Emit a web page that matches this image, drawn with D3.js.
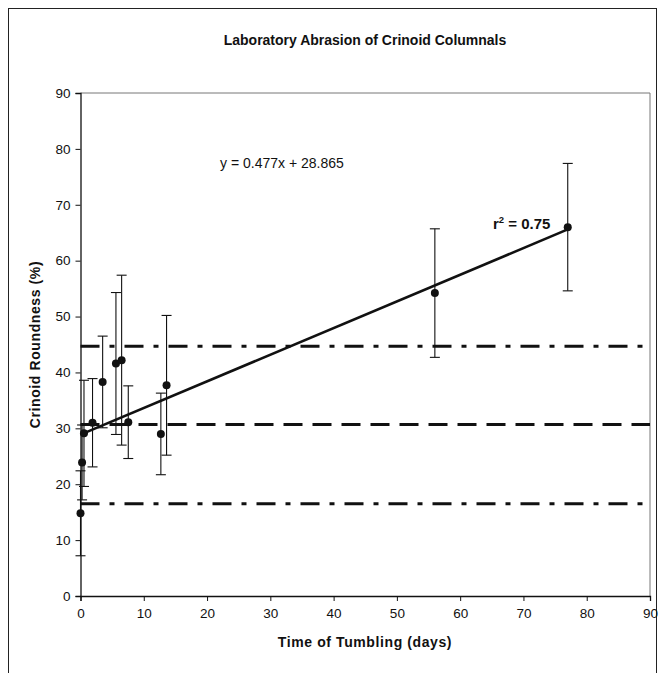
<!DOCTYPE html>
<html><head><meta charset="utf-8">
<script src="https://cdn.jsdelivr.net/npm/d3@7"></script>
<style>
html,body{margin:0;padding:0;background:#fff;}
svg{display:block;font-family:Arial,"Liberation Sans",sans-serif;}
</style></head>
<body>
<svg id="chart" width="664" height="673"></svg>
<script>
// Data
const days      = [0, 0.25, 0.55, 1.9, 3.5, 5.6, 6.5, 7.55, 12.7, 13.6, 56, 77];
const roundness = [14.8, 23.9, 29.1, 31.0, 38.3, 41.6, 42.2, 31.1, 29.0, 37.7, 54.2, 66.0];
const errors    = [7.6, 6.7, 9.5, 7.9, 8.2, 12.7, 15.2, 6.5, 7.3, 12.5, 11.5, 11.4];
const xTicks = [0, 10, 20, 30, 40, 50, 60, 70, 80, 90];
const yTicks = [0, 10, 20, 30, 40, 50, 60, 70, 80, 90];
const slope = 0.477, intercept = 28.865;
const fitRange = [0, 77];
const refLevels = [44.7, 30.7, 16.5];
const refStyles = ["dashdot", "dash", "dashdot"];

const svg = d3.select("#chart");
const x = d3.scaleLinear().domain([0, 90]).range([80.5, 650]);
const y = d3.scaleLinear().domain([0, 90]).range([596, 93]);

// outer frame
svg.append("rect").attr("x", 8.5).attr("y", 8.5).attr("width", 648).attr("height", 700)
  .attr("fill", "none").attr("stroke", "#222").attr("stroke-width", 1);

// title
svg.append("text").attr("x", 365).attr("y", 45).attr("text-anchor", "middle")
  .attr("font-size", 14).attr("font-weight", "bold").attr("fill", "#111")
  .text("Laboratory Abrasion of Crinoid Columnals");

// plot border (top and right)
svg.append("path").attr("d", `M${x(0)},${y(90)}H${x(90)}V${y(0)}`)
  .attr("fill", "none").attr("stroke", "#777").attr("stroke-width", 1);

// axes
const xAxis = d3.axisBottom(x).tickValues(xTicks).tickSize(5).tickPadding(7).tickFormat(d3.format("d"));
const gx = svg.append("g").attr("transform", `translate(0,${y(0)})`).call(xAxis);
const yAxis = d3.axisLeft(y).tickValues(yTicks).tickSize(5).tickPadding(5).tickFormat(d3.format("d"));
const gy = svg.append("g").attr("transform", `translate(${x(0)},0)`).call(yAxis);
[gx, gy].forEach(g => {
  g.select(".domain").attr("stroke", "#111").attr("stroke-width", 1.3);
  g.selectAll(".tick line").attr("stroke", "#111");
  g.selectAll(".tick text").attr("font-size", 13.5).attr("fill", "#111")
    .attr("font-family", 'Arial,"Liberation Sans",sans-serif');
});

// axis titles
svg.append("text").attr("x", 365).attr("y", 647).attr("text-anchor", "middle")
  .attr("font-size", 14).attr("font-weight", "bold").attr("fill", "#111").attr("letter-spacing", 0.6)
  .text("Time of Tumbling (days)");
svg.append("text").attr("transform", `translate(40,${(y(0)+y(90))/2}) rotate(-90)`)
  .attr("text-anchor", "middle").attr("font-size", 14).attr("font-weight", "bold").attr("fill", "#111")
  .attr("letter-spacing", 0.6)
  .text("Crinoid Roundness (%)");

// reference lines
const dashes = { dashdot: "19,10,5,10", dash: "19,10" };
svg.selectAll(".ref").data(refLevels).enter().append("line")
  .attr("x1", x(0)).attr("x2", x(90))
  .attr("y1", d => y(d)).attr("y2", d => y(d))
  .attr("stroke", "#111").attr("stroke-width", 3)
  .attr("stroke-dasharray", (d, i) => dashes[refStyles[i]]);

// regression line
svg.append("line")
  .attr("x1", x(fitRange[0])).attr("y1", y(slope * fitRange[0] + intercept))
  .attr("x2", x(fitRange[1])).attr("y2", y(slope * fitRange[1] + intercept))
  .attr("stroke", "#111").attr("stroke-width", 2.6);

// error bars
const pts = days.map((d, i) => ({ x: d, y: roundness[i], e: errors[i] }));
const eb = svg.append("g").attr("stroke", "#111").attr("stroke-width", 1.1);
pts.forEach(p => {
  eb.append("line").attr("x1", x(p.x)).attr("x2", x(p.x)).attr("y1", y(p.y - p.e)).attr("y2", y(p.y + p.e));
  [p.y - p.e, p.y + p.e].forEach(v => {
    eb.append("line").attr("x1", x(p.x) - 5).attr("x2", x(p.x) + 5).attr("y1", y(v)).attr("y2", y(v));
  });
});

// points
svg.selectAll(".pt").data(pts).enter().append("circle")
  .attr("cx", d => x(d.x)).attr("cy", d => y(d.y)).attr("r", 4).attr("fill", "#111");

// annotations
svg.append("text").attr("x", 220).attr("y", 168).attr("font-size", 14).attr("fill", "#111")
  .text(`y = ${slope}x + ${intercept}`);
const r2 = svg.append("text").attr("x", 493).attr("y", 229).attr("font-size", 15).attr("font-weight", "bold").attr("fill", "#111");
r2.append("tspan").text("r");
r2.append("tspan").attr("font-size", 9.5).attr("dy", -6).text("2");
r2.append("tspan").attr("dy", 6).text(" = 0.75");
</script>
</body></html>
